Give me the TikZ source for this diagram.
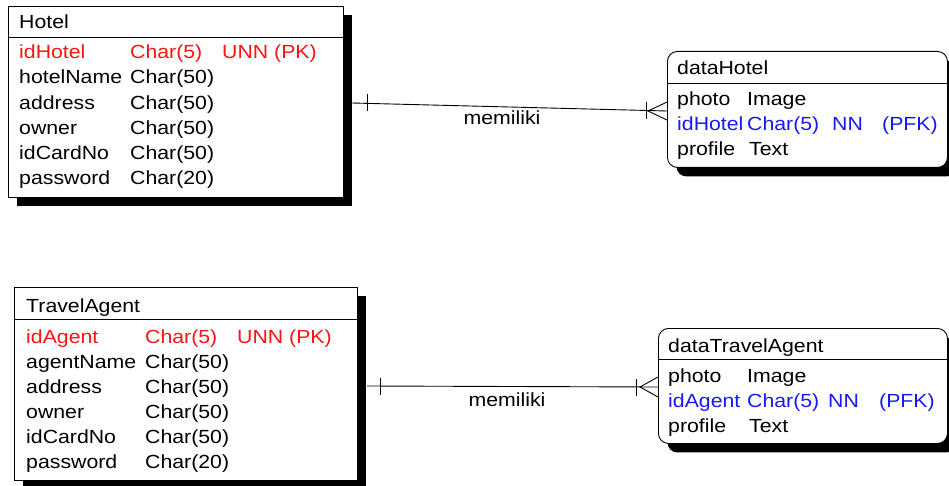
\documentclass[tikz,border=0pt]{standalone}
\usepackage{fontspec}
\setmainfont{Liberation Sans}[FakeStretch=1.12]
\usetikzlibrary{shadows}
\definecolor{pkred}{RGB}{250,20,20}
\definecolor{fkblue}{RGB}{25,25,245}

\begin{document}
\begin{tikzpicture}[x=1pt,y=-1pt]

    \tikzset{
      entity/.style={
        draw,
        fill=white,
        line width=0.9pt,
        anchor=north west,
        inner sep=0pt,
        drop shadow={shadow xshift=9pt,shadow yshift=-9pt,fill=black,opacity=1},
      },
      weak/.style={entity,rounded corners=10pt},
      field/.style={anchor=base west,inner sep=0pt,font=\fontsize{19}{23}\selectfont},
      pk/.style={field,text=pkred},
      fk/.style={field,text=fkblue},
      rel/.style={line width=0.9pt},
    }
    \useasboundingbox (0,0) rectangle (949,486);

	% Hotel
	\node[entity,minimum width=335pt,minimum height=191pt] (hotel) at (8,6) {};
	\draw[line width=0.9pt] ([yshift=-31pt]hotel.north west)--([yshift=-31pt]hotel.north east);
	\node[field] (hotelTitle) at (19,29) {Hotel};
	\node[pk] (hotelIdA) at (19,59) {idHotel};\node[pk] (hotelIdB) at (130,59) {Char(5)};\node[pk] (hotelIdC) at (222,59) {UNN (PK)};
	\node[field] (hotelNameA) at (19,84) {hotelName};\node[field] (hotelNameB) at (130,84) {Char(50)};
	\node[field] (hotelAddrA) at (19,110) {address};\node[field] (hotelAddrB) at (130,110) {Char(50)};
	\node[field] (hotelOwnA) at (19,135) {owner};\node[field] (hotelOwnB) at (130,135) {Char(50)};
	\node[field] (hotelCardA) at (19,160) {idCardNo};\node[field] (hotelCardB) at (130,160) {Char(50)};
	\node[field] (hotelPassA) at (19,185) {password};\node[field] (hotelPassB) at (130,185) {Char(20)};

	% dataHotel
	\node[weak,minimum width=280pt,minimum height=116pt] (dataHotel) at (667,51) {};
	\draw[line width=0.9pt] ([yshift=-32pt]dataHotel.north west)--([yshift=-32pt]dataHotel.north east);
	\node[field] (dataHotelTitle) at (677,75) {dataHotel};
	\node[field] (dhPhotoA) at (677,106) {photo};\node[field] (dhPhotoB) at (747,106) {Image};
	\node[fk] (dhIdA) at (677,131) {idHotel};\node[fk] (dhIdB) at (747,131) {Char(5)};\node[fk] (dhIdC) at (832,131) {NN};\node[fk] (dhIdD) at (882,131) {(PFK)};
	\node[field] (dhProfA) at (677,156) {profile};\node[field] (dhProfB) at (749,156) {Text};

	% TravelAgent
	\node[entity,minimum width=343pt,minimum height=193pt] (agent) at (14,287) {};
	\draw[line width=0.9pt] ([yshift=-32.5pt]agent.north west)--([yshift=-32.5pt]agent.north east);
	\node[field] (agentTitle) at (26,312) {TravelAgent};
	\node[pk] (agentIdA) at (26,343) {idAgent};\node[pk] (agentIdB) at (145,343) {Char(5)};\node[pk] (agentIdC) at (237,343) {UNN (PK)};
	\node[field] (agentNameA) at (26,368) {agentName};\node[field] (agentNameB) at (145,368) {Char(50)};
	\node[field] (agentAddrA) at (26,393) {address};\node[field] (agentAddrB) at (145,393) {Char(50)};
	\node[field] (agentOwnA) at (26,418) {owner};\node[field] (agentOwnB) at (145,418) {Char(50)};
	\node[field] (agentCardA) at (26,443) {idCardNo};\node[field] (agentCardB) at (145,443) {Char(50)};
	\node[field] (agentPassA) at (26,468) {password};\node[field] (agentPassB) at (145,468) {Char(20)};

	% dataTravelAgent
	\node[weak,minimum width=289pt,minimum height=115pt] (dataAgent) at (658,328) {};
	\draw[line width=0.9pt] ([yshift=-31pt]dataAgent.north west)--([yshift=-31pt]dataAgent.north east);
	\node[field] (dataAgentTitle) at (668,352) {dataTravelAgent};
	\node[field] (daPhotoA) at (668,382) {photo};\node[field] (daPhotoB) at (747,382) {Image};
	\node[fk] (daIdA) at (668,407) {idAgent};\node[fk] (daIdB) at (747,407) {Char(5)};\node[fk] (daIdC) at (828,407) {NN};\node[fk] (daIdD) at (879,407) {(PFK)};
	\node[field] (daProfA) at (668,432) {profile};\node[field] (daProfB) at (749,432) {Text};

	% relationships
	\coordinate (hotelEnd) at (352,103);
	\coordinate (dataHotelEnd) at (667,111);
	\draw[rel] (hotelEnd)--(dataHotelEnd);
	\draw[rel] ([xshift=15pt,yshift=8.5pt]hotelEnd)--([xshift=15pt,yshift=-8.5pt]hotelEnd);
	\draw[rel] ([xshift=-21pt,yshift=8.5pt]dataHotelEnd)--([xshift=-21pt,yshift=-8.5pt]dataHotelEnd);
	\draw[rel] ([yshift=9pt]dataHotelEnd)--([xshift=-19pt]dataHotelEnd)--([yshift=-9pt]dataHotelEnd);
	\node[field,anchor=base] (hotelRel) at (502,125) {memiliki};

	\coordinate (agentEnd) at (367,386);
	\coordinate (dataAgentEnd) at (658,387);
	\draw[rel] (agentEnd)--(dataAgentEnd);
	\draw[rel] ([xshift=13pt,yshift=8.5pt]agentEnd)--([xshift=13pt,yshift=-8.5pt]agentEnd);
	\draw[rel] ([xshift=-22pt,yshift=8.5pt]dataAgentEnd)--([xshift=-22pt,yshift=-8.5pt]dataAgentEnd);
	\draw[rel] ([yshift=10pt]dataAgentEnd)--([xshift=-18pt]dataAgentEnd)--([yshift=-10pt]dataAgentEnd);
	\node[field,anchor=base] (agentRel) at (507,406) {memiliki};

\end{tikzpicture}
\end{document}
